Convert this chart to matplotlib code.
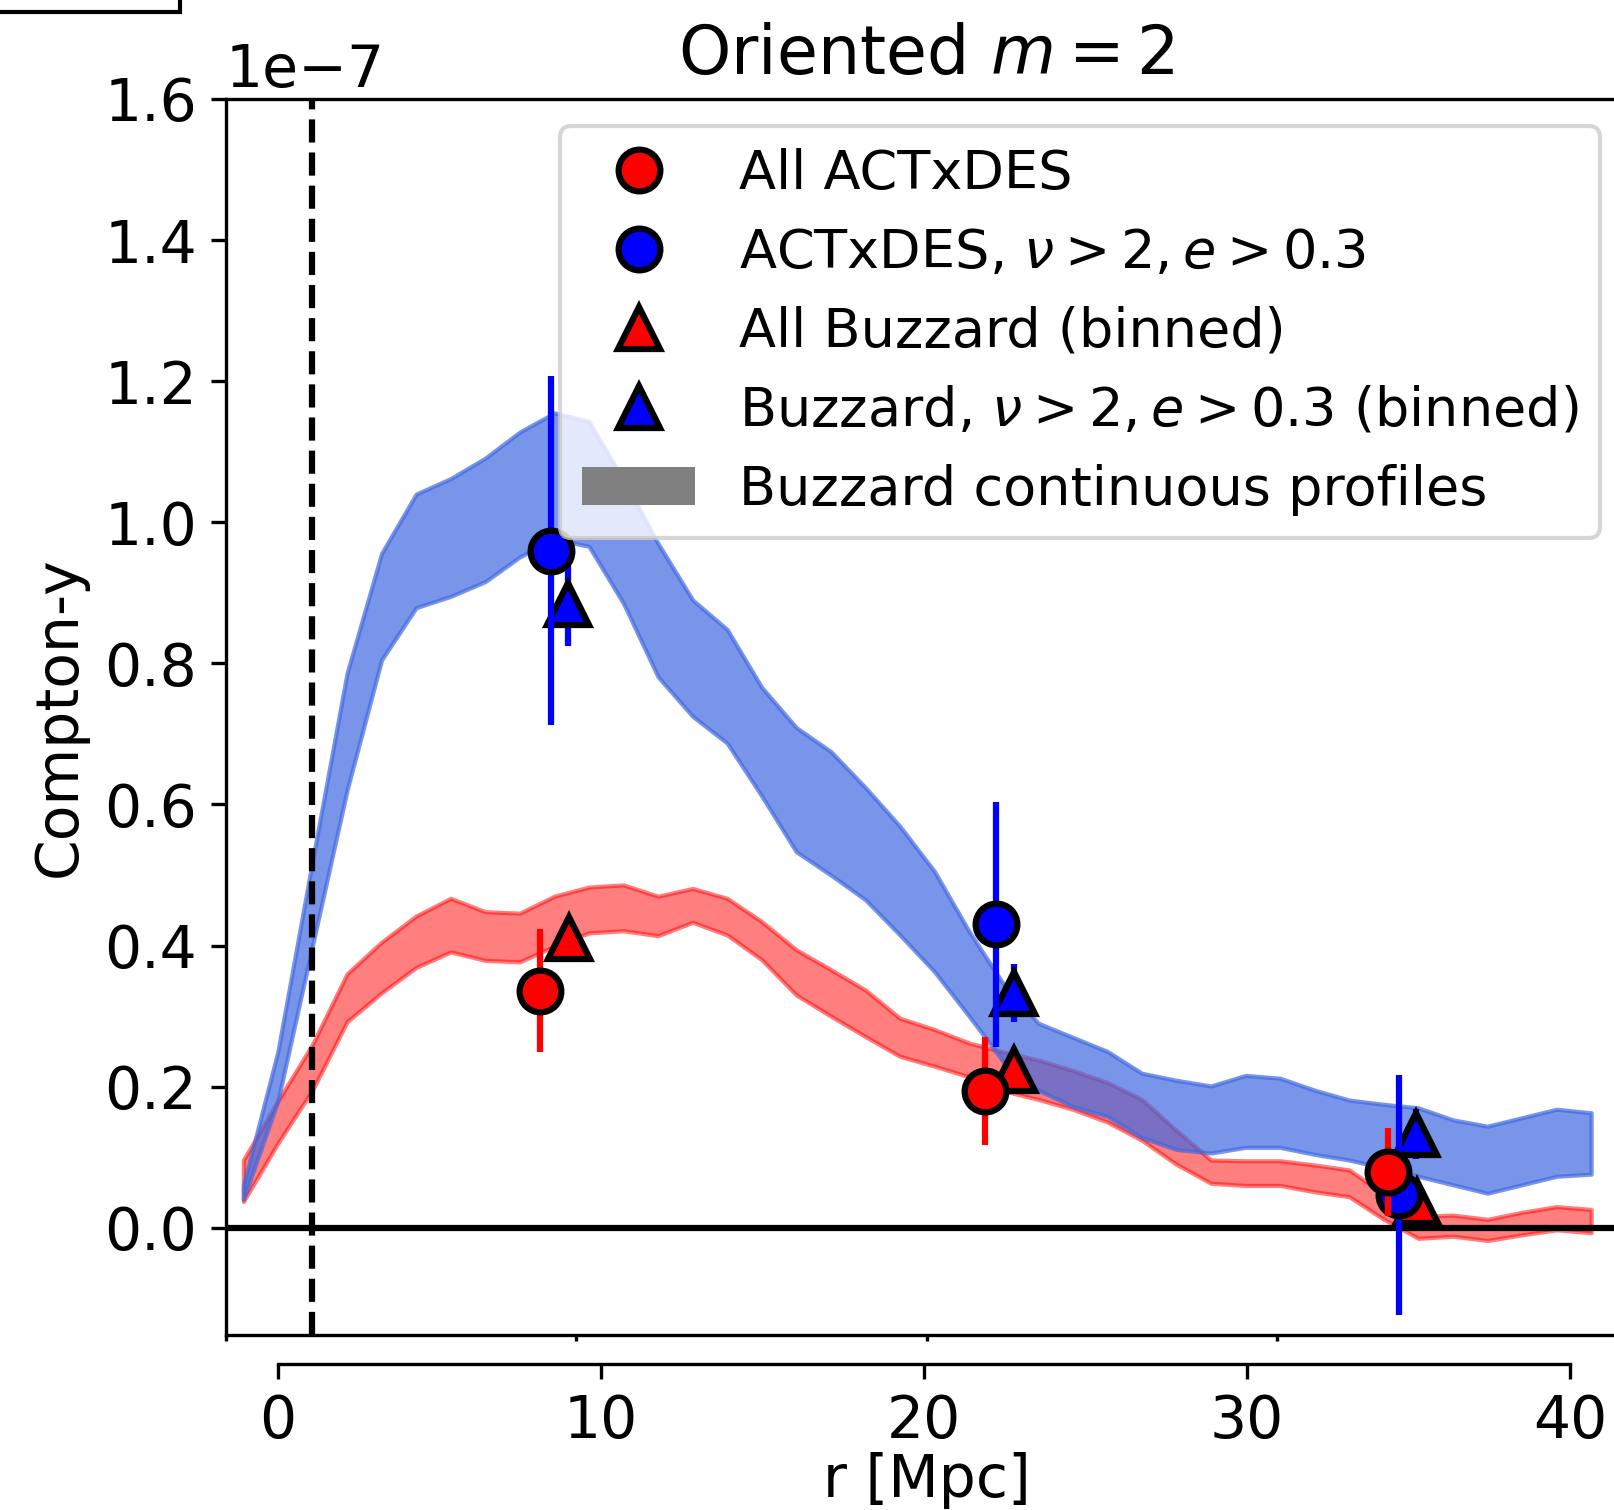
import matplotlib
matplotlib.use("Agg")
import matplotlib.pyplot as plt
from matplotlib.patches import Patch, Rectangle
from matplotlib.lines import Line2D
import numpy as np

# radial grid of the continuous Buzzard profiles [Mpc]
r_grid = [-1.07, 0.00, 1.07, 2.14, 3.21, 4.28, 5.35, 6.42, 7.49, 8.56,
          9.63, 10.70, 11.77, 12.84, 13.91, 14.98, 16.05, 17.12, 18.19, 19.26,
          20.33, 21.40, 22.47, 23.54, 24.61, 25.68, 26.75, 27.82, 28.89, 29.96,
          31.03, 32.10, 33.17, 34.24, 35.31, 36.38, 37.45, 38.52, 39.59, 40.66]

# continuous profiles, lower / upper edge (units of 1e-7)
red_lo = [0.037, 0.120, 0.195, 0.292, 0.333, 0.369, 0.391, 0.379, 0.377, 0.399,
          0.418, 0.421, 0.414, 0.433, 0.415, 0.380, 0.330, 0.300, 0.271, 0.243,
          0.229, 0.214, 0.194, 0.182, 0.168, 0.150, 0.124, 0.090, 0.063, 0.060,
          0.060, 0.051, 0.044, 0.012, -0.015, -0.012, -0.018, -0.010, -0.003, -0.007]
red_hi = [0.096, 0.180, 0.260, 0.360, 0.405, 0.442, 0.467, 0.448, 0.446, 0.470,
          0.483, 0.486, 0.470, 0.481, 0.467, 0.434, 0.394, 0.366, 0.337, 0.297,
          0.281, 0.262, 0.249, 0.238, 0.223, 0.206, 0.182, 0.138, 0.096, 0.095,
          0.095, 0.089, 0.082, 0.048, 0.016, 0.018, 0.012, 0.022, 0.030, 0.026]
blue_lo = [0.040, 0.180, 0.400, 0.620, 0.805, 0.879, 0.895, 0.916, 0.951, 0.976,
           0.966, 0.885, 0.781, 0.725, 0.687, 0.612, 0.533, 0.500, 0.465, 0.415,
           0.363, 0.300, 0.235, 0.195, 0.172, 0.158, 0.128, 0.111, 0.106, 0.114,
           0.114, 0.104, 0.096, 0.085, 0.073, 0.061, 0.049, 0.061, 0.073, 0.076]
blue_hi = [0.060, 0.250, 0.520, 0.786, 0.956, 1.040, 1.062, 1.091, 1.128, 1.155,
           1.143, 1.060, 0.970, 0.890, 0.848, 0.766, 0.709, 0.675, 0.624, 0.569,
           0.505, 0.420, 0.345, 0.290, 0.270, 0.250, 0.219, 0.209, 0.201, 0.216,
           0.212, 0.195, 0.181, 0.175, 0.170, 0.153, 0.144, 0.156, 0.168, 0.163]

# binned measurements
r_act_all = [8.10, 21.90, 34.38]
y_act_all = [0.336, 0.194, 0.079]
e_act_all = [0.087, 0.077, 0.063]

r_act_sel = [8.45, 22.22, 34.71]
y_act_sel = [0.960, 0.430, 0.046]
e_act_sel = [0.247, 0.174, 0.170]

r_buz_all = [9.00, 22.80, 35.27]
y_buz_all = [0.411, 0.223, 0.037]
e_buz_all = [0.015, 0.015, 0.015]

r_buz_sel = [8.98, 22.80, 35.25]
y_buz_sel = [0.884, 0.333, 0.133]
e_buz_sel = [0.059, 0.041, 0.035]

r_cut = 1.05
scale = 1e-7

labels = ["All ACTxDES",
          r"ACTxDES, $\nu > 2, e > 0.3$",
          "All Buzzard (binned)",
          r"Buzzard, $\nu > 2, e > 0.3$ (binned)",
          "Buzzard continuous profiles"]
main_ticks = [0, 10, 20, 30]
mpc_ticks = [0, 10, 20, 30, 40]
y_ticks = [0.0, 0.2, 0.4, 0.6, 0.8, 1.0, 1.2, 1.4, 1.6]

plt.rcParams["font.size"] = 14

def s(v):
    return np.array(v) * scale

fig = plt.figure(figsize=(1614 / 300, 1510 / 300), dpi=300)
ax = fig.add_axes([226 / 1614, 1 - 1335 / 1510, 1401 / 1614, 1236 / 1510])

# main axis: unlabelled ticks
ax.set_xlim(0, 40)
ax.set_xticks(main_ticks)
ax.set_xticklabels([])
ax.tick_params(axis="x", length=1.5)
ax.set_ylim(-0.152e-7, 1.6e-7)
ax.set_yticks(s(y_ticks))
ax.set_ylabel("Compton-y")
ax.set_title(r"Oriented $m=2$", fontsize=16)

# data axis in Mpc with offset bottom spine
ax2 = ax.twiny()
ax2.set_xlim(-1.607, 41.77)
ax2.xaxis.set_ticks_position("bottom")
ax2.xaxis.set_label_position("bottom")
ax2.spines["bottom"].set_position(("outward", 7))
ax2.spines["bottom"].set_bounds(0, 40)
for side in ["top", "left", "right"]:
    ax2.spines[side].set_visible(False)
ax2.set_xticks(mpc_ticks)
ax2.set_xlabel("r [Mpc]", labelpad=0.5)

ax2.fill_between(r_grid, s(red_lo), s(red_hi), color="red", alpha=0.5)
ax2.fill_between(r_grid, s(blue_lo), s(blue_hi), color="royalblue", alpha=0.7)
ax2.axhline(0, color="k", lw=1.5, zorder=2.5)
ax2.axvline(r_cut, color="k", ls="--", lw=1.5)

mk = dict(ms=10, mec="k", mew=1.5, ls="none")
eb = dict(fmt="none", elinewidth=1.5, capsize=0)

ax2.errorbar(r_buz_all, s(y_buz_all), yerr=s(e_buz_all), ecolor="red", zorder=3, **eb)
ax2.plot(r_buz_all, s(y_buz_all), "^", color="red", zorder=3.1, **mk)
ax2.errorbar(r_buz_sel, s(y_buz_sel), yerr=s(e_buz_sel), ecolor="blue", zorder=3.2, **eb)
ax2.plot(r_buz_sel, s(y_buz_sel), "^", color="blue", zorder=3.3, **mk)
ax2.errorbar(r_act_sel, s(y_act_sel), yerr=s(e_act_sel), ecolor="blue", zorder=3.4, **eb)
ax2.plot(r_act_sel, s(y_act_sel), "o", color="blue", zorder=3.5, **mk)
ax2.errorbar(r_act_all, s(y_act_all), yerr=s(e_act_all), ecolor="red", zorder=3.6, **eb)
ax2.plot(r_act_all, s(y_act_all), "o", color="red", zorder=3.7, **mk)

handles = [Line2D([], [], marker="o", color="red", **mk),
           Line2D([], [], marker="o", color="blue", **mk),
           Line2D([], [], marker="^", color="red", **mk),
           Line2D([], [], marker="^", color="blue", **mk),
           Patch(facecolor="gray")]
leg = ax2.legend(handles, labels, loc="upper right", fontsize=13,
                 handlelength=2.1)
leg.set_zorder(5)

# corner of the neighbouring panel's box
fig.add_artist(Rectangle((-0.05, 1 - 12 / 1510), 180 / 1614 + 0.05, 0.05,
                         transform=fig.transFigure, fill=False, lw=1,
                         edgecolor="k", clip_on=False))

fig.savefig("out.png", dpi=300)
